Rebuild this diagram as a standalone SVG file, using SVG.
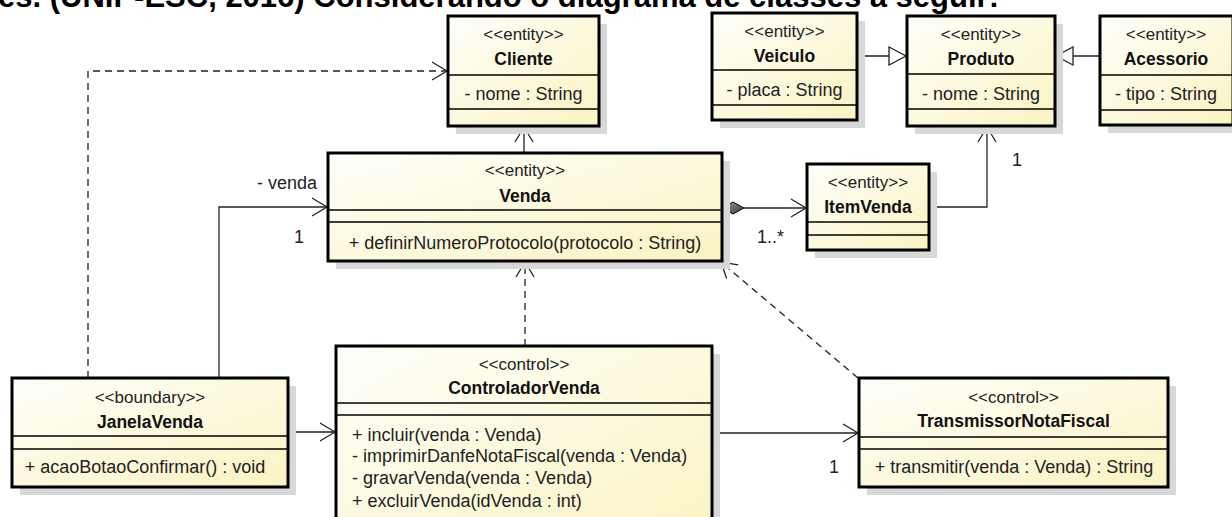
<svg xmlns="http://www.w3.org/2000/svg" width="1232" height="517" viewBox="0 0 1232 517">
<defs>
<linearGradient id="fill" x1="0" y1="0" x2="1" y2="1">
<stop offset="0" stop-color="#fffffb"/>
<stop offset="1" stop-color="#faf3c2"/>
</linearGradient>
<linearGradient id="dia" x1="0" y1="0" x2="1" y2="1">
<stop offset="0" stop-color="#9a9a9a"/>
<stop offset="1" stop-color="#3a3a3a"/>
</linearGradient>
<marker id="open" viewBox="0 0 20 20" markerWidth="20" markerHeight="20" refX="16" refY="10" orient="auto" markerUnits="userSpaceOnUse">
<path d="M1 1 L16 10 L1 19" fill="none" stroke="#222" stroke-width="1.3" stroke-dasharray="none"/>
</marker>
<marker id="tri" viewBox="0 0 20 20" markerWidth="20" markerHeight="20" refX="18" refY="10" orient="auto" markerUnits="userSpaceOnUse">
<path d="M1 1 L18 10 L1 19 Z" fill="#fff" stroke="#222" stroke-width="1.3"/>
</marker>
</defs>
<style>
.shadow{fill:#d8d8d8}
.box{fill:url(#fill);stroke:#000;stroke-width:3}
.div{stroke:#000;stroke-width:1.5}
text{font-family:"Liberation Sans",Arial,sans-serif}
.st{font-size:17px;text-anchor:middle;fill:#222}
.nm{font-size:17.5px;font-weight:bold;text-anchor:middle;fill:#111}
.mb{font-size:18px;fill:#222}
.mc{font-size:18px;fill:#222;text-anchor:middle}
.ln{fill:none;stroke:#222;stroke-width:1.3}
.dash{stroke-dasharray:7 5}
.lbl{font-size:18px;fill:#222}
.title{font-size:31px;font-weight:bold;fill:#000}
</style>
<rect width="1232" height="517" fill="#fff"/>
<text class="title" x="-2" y="7">es. (UNIP-ESC, 2016) Considerando o diagrama de classes a seguir:</text>

<g id="connectors">
<path class="ln" d="M524 153 L524 127" marker-end="url(#open)"/>
<path class="ln" d="M857 56 L906 56" marker-end="url(#tri)"/>
<path class="ln" d="M1100 56 L1056 56" marker-end="url(#tri)"/>
<polygon points="722,208 733,202 744,208 733,214" fill="url(#dia)" stroke="#000" stroke-width="1"/>
<path class="ln" d="M744 208 L806 208" marker-end="url(#open)"/>
<text class="lbl" x="757" y="243">1..*</text>
<path class="ln" d="M929 207 L987 207 L987 127" marker-end="url(#open)"/>
<text class="lbl" x="1012" y="166">1</text>
<path class="ln" d="M219 378 L219 207 L327 207" marker-end="url(#open)"/>
<text class="lbl" x="317" y="189" text-anchor="end">- venda</text>
<text class="lbl" x="294" y="243">1</text>
<path class="ln dash" d="M88 378 L88 71 L447 71" marker-end="url(#open)"/>
<path class="ln" d="M288 432 L335 432" marker-end="url(#open)"/>
<path class="ln dash" d="M525 346 L525 262" marker-end="url(#open)"/>
<path class="ln" d="M712 433 L858 433" marker-end="url(#open)"/>
<text class="lbl" x="829" y="473">1</text>
<path class="ln dash" d="M858 378 L721 262" marker-end="url(#open)"/>
</g>

<g id="Cliente">
<rect class="shadow" x="456" y="24" width="151" height="110"/>
<rect class="box" x="448" y="16" width="151" height="110"/>
<line class="div" x1="448" y1="75" x2="599" y2="75"/>
<line class="div" x1="448" y1="109" x2="599" y2="109"/>
<text class="st" x="523.5" y="40">&lt;&lt;entity&gt;&gt;</text>
<text class="nm" x="523.5" y="65">Cliente</text>
<text class="mc" x="523.5" y="100">- nome : String</text>
</g>

<g id="Veiculo">
<rect class="shadow" x="720" y="21" width="145" height="107"/>
<rect class="box" x="712" y="13" width="145" height="107"/>
<line class="div" x1="712" y1="70" x2="857" y2="70"/>
<line class="div" x1="712" y1="105" x2="857" y2="105"/>
<text class="st" x="784.5" y="37">&lt;&lt;entity&gt;&gt;</text>
<text class="nm" x="784.5" y="62">Veiculo</text>
<text class="mc" x="784.5" y="96">- placa : String</text>
</g>

<g id="Produto">
<rect class="shadow" x="915" y="24" width="148" height="110"/>
<rect class="box" x="907" y="16" width="148" height="110"/>
<line class="div" x1="907" y1="74" x2="1055" y2="74"/>
<line class="div" x1="907" y1="109" x2="1055" y2="109"/>
<text class="st" x="981" y="40">&lt;&lt;entity&gt;&gt;</text>
<text class="nm" x="981" y="65">Produto</text>
<text class="mc" x="981" y="100">- nome : String</text>
</g>

<g id="Acessorio">
<rect class="shadow" x="1108" y="24" width="133" height="109"/>
<rect class="box" x="1100" y="16" width="133" height="109"/>
<line class="div" x1="1100" y1="75" x2="1233" y2="75"/>
<line class="div" x1="1100" y1="110" x2="1233" y2="110"/>
<text class="st" x="1166" y="40">&lt;&lt;entity&gt;&gt;</text>
<text class="nm" x="1166" y="65">Acessorio</text>
<text class="mc" x="1166" y="100">- tipo : String</text>
</g>

<g id="Venda">
<rect class="shadow" x="336" y="161" width="394" height="108"/>
<rect class="box" x="328" y="153" width="394" height="108"/>
<line class="div" x1="328" y1="210" x2="722" y2="210"/>
<line class="div" x1="328" y1="222" x2="722" y2="222"/>
<text class="st" x="525" y="176">&lt;&lt;entity&gt;&gt;</text>
<text class="nm" x="525" y="202">Venda</text>
<text class="mc" x="525" y="249">+ definirNumeroProtocolo(protocolo : String)</text>
</g>

<g id="ItemVenda">
<rect class="shadow" x="815" y="172" width="122" height="86"/>
<rect class="box" x="807" y="164" width="122" height="86"/>
<line class="div" x1="807" y1="222" x2="929" y2="222"/>
<line class="div" x1="807" y1="235" x2="929" y2="235"/>
<text class="st" x="868" y="188">&lt;&lt;entity&gt;&gt;</text>
<text class="nm" x="868" y="213">ItemVenda</text>
</g>

<g id="JanelaVenda">
<rect class="shadow" x="20" y="386" width="276" height="109"/>
<rect class="box" x="12" y="378" width="276" height="109"/>
<line class="div" x1="12" y1="436" x2="288" y2="436"/>
<line class="div" x1="12" y1="449" x2="288" y2="449"/>
<text class="st" x="150" y="403">&lt;&lt;boundary&gt;&gt;</text>
<text class="nm" x="150" y="428">JanelaVenda</text>
<text class="mc" x="145" y="473">+ acaoBotaoConfirmar() : void</text>
</g>

<g id="ControladorVenda">
<rect class="shadow" x="344" y="354" width="376" height="200"/>
<rect class="box" x="336" y="346" width="376" height="200"/>
<line class="div" x1="336" y1="403" x2="712" y2="403"/>
<line class="div" x1="336" y1="415" x2="712" y2="415"/>
<text class="st" x="524" y="370">&lt;&lt;control&gt;&gt;</text>
<text class="nm" x="524" y="394">ControladorVenda</text>
<text class="mb" x="352" y="441">+ incluir(venda : Venda)</text>
<text class="mb" x="352" y="462">- imprimirDanfeNotaFiscal(venda : Venda)</text>
<text class="mb" x="352" y="484">- gravarVenda(venda : Venda)</text>
<text class="mb" x="352" y="507">+ excluirVenda(idVenda : int)</text>
</g>

<g id="TransmissorNotaFiscal">
<rect class="shadow" x="867" y="386" width="309" height="109"/>
<rect class="box" x="859" y="378" width="309" height="109"/>
<line class="div" x1="859" y1="437" x2="1168" y2="437"/>
<line class="div" x1="859" y1="449" x2="1168" y2="449"/>
<text class="st" x="1013.5" y="403">&lt;&lt;control&gt;&gt;</text>
<text class="nm" x="1013.5" y="427">TransmissorNotaFiscal</text>
<text class="mc" x="1014" y="473">+ transmitir(venda : Venda) : String</text>
</g>
</svg>
